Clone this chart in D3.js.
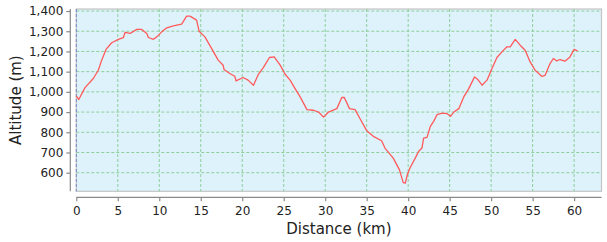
<!DOCTYPE html>
<html><head><meta charset="utf-8">
<script src="https://cdn.jsdelivr.net/npm/d3@7"></script>
<style>
html,body{margin:0;padding:0;background:#fff;}
svg{display:block;font-family:"DejaVu Sans",sans-serif;}
</style></head>
<body>
<svg id="c" width="607" height="242"></svg>
<script>
const distance = [0,0.3,1.05,2.05,2.65,3.06,3.58,4.27,5.07,5.67,5.87,6.48,7.28,7.89,8.49,8.69,9.29,9.7,10.3,10.9,11.7,12.7,13.0,13.3,13.7,14.5,14.8,
15.5,16.3,17.1,17.7,17.8,18.5,19.1,19.26,20.1,20.7,21.35,21.95,22.56,23.28,23.85,24.57,25.17,25.77,26.37,26.98,27.8,28.6,29.2,29.8,30.4,31.4,32.0,32.3,32.93,33.6,34.2,
35.0,35.8,36.8,37.2,38.2,38.95,39.4,39.65,39.9,40.2,40.85,41.25,41.66,41.86,42.27,42.67,43.07,43.47,44.1,44.7,45.1,45.5,46.1,46.7,47.3,48.0,48.4,48.9,49.5,50.1,50.7,51.3,51.9,52.3,52.9,53.5,54.1,54.7,55.3,56.1,56.5,57.1,57.5,57.9,58.3,58.9,59.5,60.0,60.4];
const altitude = [980,962,1021,1066,1107,1157,1210,1243,1260,1268,1294,1289,1309,1309,1289,1269,1260,1272,1297,1317,1327,1335,1355,1375,1375,1355,1300,
1272,1215,1157,1132,1111,1091,1077,1054,1071,1058,1033,1087,1121,1170,1173,1132,1087,1058,1016,975,912,909,900,875,900,917,972,972,917,912,867,
808,780,758,722,672,614,551,548,590,622,672,705,722,771,775,829,854,887,895,892,879,900,917,975,1016,1074,1061,1033,1058,1116,1170,1198,1223,1223,1260,1231,1206,1148,1107,1077,1082,1140,1165,1153,1160,1152,1173,1210,1203];
const xTicks = [0,5,10,15,20,25,30,35,40,45,50,55,60];
const yTicks = [600,700,800,900,1000,1100,1200,1300,1400];

const svg = d3.select("#c");
const L = 76.3, R = 601.5, T = 9, B = 191.3;
const x = d3.scaleLinear().domain([0,63.3]).range([L,R]);
const y = d3.scaleLinear().domain([508,1410]).range([B,T]);

// plot background
svg.append("rect").attr("x",L).attr("y",T).attr("width",R-L).attr("height",B-T)
  .attr("fill","#def2fc").attr("stroke","#c4c4c4").attr("stroke-width",1.2);

// gridlines
const g = svg.append("g");
g.selectAll(".gy").data(yTicks).join("line")
  .attr("x1",L).attr("x2",R).attr("y1",d=>y(d)).attr("y2",d=>y(d))
  .attr("stroke","#8ccf9a").attr("stroke-width",1).attr("stroke-dasharray","3,2");
g.selectAll(".gx").data(xTicks.filter(d=>d>0)).join("line")
  .attr("x1",d=>x(d)).attr("x2",d=>x(d)).attr("y1",T).attr("y2",B)
  .attr("stroke","#8ccf9a").attr("stroke-width",1).attr("stroke-dasharray","3,2");
g.append("line").attr("x1",x(0)).attr("x2",x(0)).attr("y1",T).attr("y2",B)
  .attr("stroke","#7a86c8").attr("stroke-width",1).attr("stroke-dasharray","3,2");

// line
const line = d3.line().x((d,i)=>x(distance[i])).y(d=>y(d)).curve(d3.curveLinear);
svg.append("path").datum(altitude).attr("d",line)
  .attr("fill","none").attr("stroke","#ff5a5a").attr("stroke-width",1.3).attr("stroke-linejoin","round");

// axes
const xAxis = d3.axisBottom(x).tickValues(xTicks).tickSize(4).tickSizeOuter(0).tickPadding(5);
const yAxis = d3.axisLeft(y).tickValues(yTicks).tickSize(4).tickSizeOuter(0).tickPadding(3).tickFormat(d3.format(","));
const xa = svg.append("g").attr("transform","translate(0,197.3)").call(xAxis);
const ya = svg.append("g").attr("transform","translate(70.3,0)").call(yAxis);
xa.select(".domain").attr("d",`M${L},0H${R}`);
ya.select(".domain").attr("d",`M0,${T}V${B}`);
[xa,ya].forEach(a=>{
  a.selectAll(".domain,.tick line").attr("stroke","#8a8a8a").attr("stroke-width",1.2);
  a.selectAll("text").attr("font-size",12).attr("fill","#222").attr("font-family","DejaVu Sans");
});

svg.append("text").attr("x",(L+R)/2).attr("y",233.5).attr("text-anchor","middle")
  .attr("font-size",15).attr("fill","#222").text("Distance (km)");
svg.append("text").attr("transform",`translate(20.5,${(T+B)/2}) rotate(-90)`).attr("text-anchor","middle")
  .attr("font-size",15).attr("fill","#222").text("Altitude (m)");
</script>
</body></html>
